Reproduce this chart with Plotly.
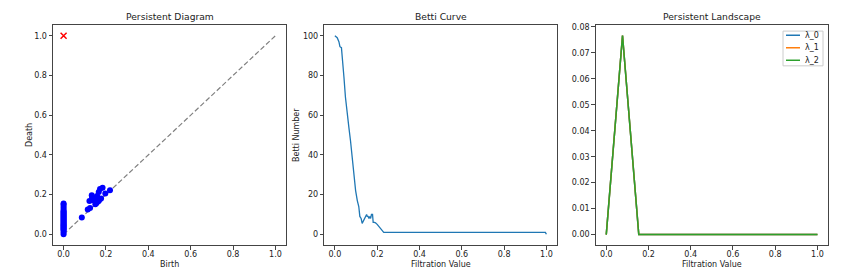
import plotly.graph_objects as go

# ---------------- data ----------------
h0_birth = [0.0] * 27
h0_death = [0.0, 0.01, 0.02, 0.025, 0.03, 0.035, 0.04, 0.045, 0.05, 0.055, 0.06, 0.065,
            0.07, 0.075, 0.08, 0.085, 0.09, 0.095, 0.10, 0.105, 0.11, 0.115, 0.12, 0.13,
            0.14, 0.15, 0.155]
h1_birth = [0.086, 0.114, 0.125, 0.122, 0.134, 0.133, 0.145, 0.150, 0.156, 0.161, 0.166,
            0.172, 0.166, 0.172, 0.184, 0.177, 0.197, 0.219, 0.137, 0.158]
h1_death = [0.085, 0.125, 0.132, 0.168, 0.188, 0.197, 0.180, 0.152, 0.158, 0.167, 0.168,
            0.178, 0.213, 0.228, 0.235, 0.180, 0.205, 0.222, 0.172, 0.193]
inf_birth = [0.0]
inf_death = [1.0]
diag = [0.0, 1.0]

betti_x = [0.0, 0.011, 0.019, 0.024, 0.031, 0.035, 0.043, 0.050, 0.058, 0.066, 0.074,
           0.082, 0.090, 0.098, 0.106, 0.113, 0.118, 0.124, 0.129, 0.137, 0.145, 0.150,
           0.153, 0.157, 0.161, 0.165, 0.169, 0.173, 0.178, 0.181, 0.187, 0.192, 0.200,
           0.208, 0.216, 0.224, 0.231, 0.240, 0.5, 0.995, 1.0]
betti_y = [100, 99, 97, 94.5, 94, 90, 79, 69, 60, 54, 47, 39, 29, 22, 17, 14, 9, 8, 5.5,
           7, 9, 10, 9, 9, 8, 9, 8, 10, 10, 6, 6, 5.8, 5, 4, 3, 2, 1, 1, 1, 1, 0]

land_x = [0.0, 0.077, 0.154, 0.231, 0.308, 0.385, 0.462, 0.538, 0.615, 0.692, 0.769,
          0.846, 0.923, 1.0]
lam0 = [0.0, 0.0767, 0, 0, 0, 0, 0, 0, 0, 0, 0, 0, 0, 0]
lam1 = [0.0, 0.0767, 0, 0, 0, 0, 0, 0, 0, 0, 0, 0, 0, 0]
lam2 = [0.0, 0.0767, 0, 0, 0, 0, 0, 0, 0, 0, 0, 0, 0, 0]
legend_names = ["λ_0", "λ_1", "λ_2"]
colors = ["#1f77b4", "#ff7f0e", "#2ca02c"]

W, H = 845, 277
def px(x): return x / W
def py(y): return 1 - y / H

FONT = "DejaVu Sans"
fig = go.Figure()

# panel 1
fig.add_trace(go.Scatter(x=diag, y=diag, mode="lines",
                         line=dict(color="gray", dash="5px,2.5px", width=1.2),
                         xaxis="x", yaxis="y", showlegend=False))
fig.add_trace(go.Scatter(x=h0_birth, y=h0_death, mode="markers", marker=dict(color="blue", size=6),
                         xaxis="x", yaxis="y", showlegend=False))
fig.add_trace(go.Scatter(x=h1_birth, y=h1_death, mode="markers", marker=dict(color="blue", size=6),
                         xaxis="x", yaxis="y", showlegend=False))
fig.add_trace(go.Scatter(x=inf_birth, y=inf_death, mode="markers",
                         marker=dict(color="red", size=6, symbol="x-thin", line=dict(color="red", width=1.5)),
                         xaxis="x", yaxis="y", showlegend=False))
# panel 2
fig.add_trace(go.Scatter(x=betti_x, y=betti_y, mode="lines", line=dict(color="#1f77b4", width=1.3),
                         xaxis="x2", yaxis="y2", showlegend=False))
# panel 3
for lam, c, n in zip([lam0, lam1, lam2], colors, legend_names):
    fig.add_trace(go.Scatter(x=land_x, y=lam, mode="lines", line=dict(color=c, width=1.5),
                             name=n, xaxis="x3", yaxis="y3", showlegend=False))

ax_common = dict(showgrid=False, zeroline=False, showline=True, mirror=True,
                 linecolor="#444", linewidth=1, ticks="outside", ticklen=3.5, tickwidth=0.8,
                 tickcolor="#444", tickfont=dict(family=FONT, size=8, color="#222"))
ydom = [py(245), py(23)]
fig.update_layout(
    width=W, height=H, margin=dict(l=0, r=0, t=0, b=0),
    paper_bgcolor="white", plot_bgcolor="white",
    xaxis=dict(domain=[px(53), px(286)], range=[-0.05, 1.05], tickvals=[0, 0.2, 0.4, 0.6, 0.8, 1.0],
               tickformat=".1f", anchor="y", ticklabelstandoff=-2, **ax_common),
    yaxis=dict(domain=ydom, range=[-0.055, 1.055], tickvals=[0, 0.2, 0.4, 0.6, 0.8, 1.0],
               tickformat=".1f", anchor="x", **ax_common),
    xaxis2=dict(domain=[px(324.3), px(557)], range=[-0.05, 1.05], tickvals=[0, 0.2, 0.4, 0.6, 0.8, 1.0],
                tickformat=".1f", anchor="y2", ticklabelstandoff=-2, **ax_common),
    yaxis2=dict(domain=ydom, range=[-5.5, 105.5], tickvals=[0, 20, 40, 60, 80, 100],
                anchor="x2", **ax_common),
    xaxis3=dict(domain=[px(595.7), px(828)], range=[-0.05, 1.05], tickvals=[0, 0.2, 0.4, 0.6, 0.8, 1.0],
                tickformat=".1f", anchor="y3", ticklabelstandoff=-2, **ax_common),
    yaxis3=dict(domain=ydom, range=[-0.0041, 0.0808],
                tickvals=[0, 0.01, 0.02, 0.03, 0.04, 0.05, 0.06, 0.07, 0.08],
                tickformat=".2f", anchor="x3", **ax_common),
)

def ann(text, x, y, size, angle=0):
    fig.add_annotation(text=text, x=px(x), y=py(y), xref="paper", yref="paper",
                       showarrow=False, textangle=angle, xanchor="center", yanchor="middle",
                       font=dict(family=FONT, size=size, color="#222"))

# titles and axis labels
ann("Persistent Diagram", 169.5, 15, 9.2)
ann("Betti Curve", 440.5, 15, 9.2)
ann("Persistent Landscape", 712, 15, 9.2)
ann("Birth", 169.5, 264, 8)
ann("Filtration Value", 440.5, 264, 8)
ann("Filtration Value", 712, 264, 8)
ann("Death", 29, 134, 8, -90)
ann("Betti Number", 296, 134, 8, -90)

# legend (manual, matplotlib-style)
fig.add_shape(type="rect", xref="paper", yref="paper", x0=px(783), x1=px(823), y0=py(64.3), y1=py(29.3),
              line=dict(color="#ccc", width=1), fillcolor="rgba(255,255,255,0.8)")
for i, (n, c) in enumerate(zip(legend_names, colors)):
    yy = 33.5 + i * 12.6
    fig.add_shape(type="line", xref="paper", yref="paper", x0=px(786), x1=px(800), y0=py(yy), y1=py(yy),
                  line=dict(color=c, width=1.5))
    fig.add_annotation(text=n, x=px(803), y=py(yy), xref="paper", yref="paper", showarrow=False,
                       xanchor="left", yanchor="middle", font=dict(family=FONT, size=8, color="#222"))

fig.write_html("out.html", config={"displayModeBar": False},
               post_script="document.body.style.margin='0';")
